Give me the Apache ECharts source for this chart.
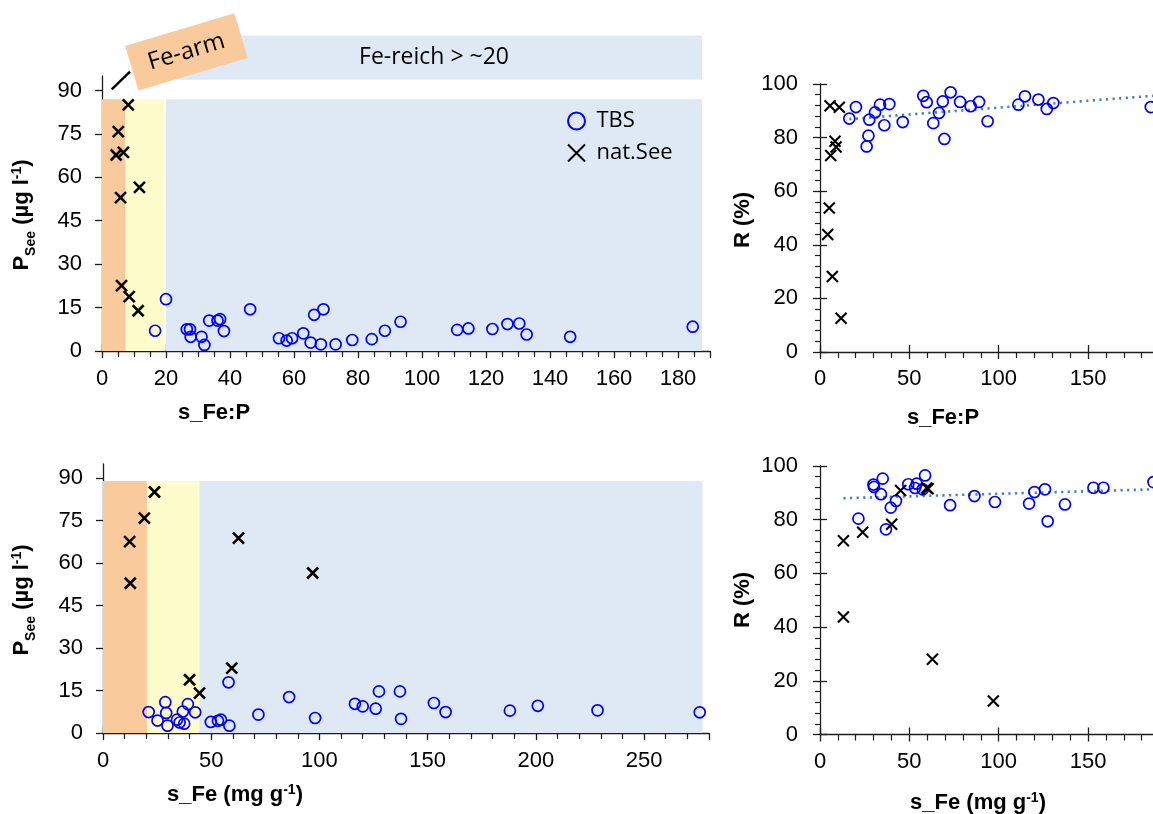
<!DOCTYPE html>
<html>
<head>
<meta charset="utf-8">
<script src="https://cdn.jsdelivr.net/npm/echarts@6/dist/echarts.min.js"></script>
<style>
html, body { margin: 0; padding: 0; background: #ffffff; }
#chart { width: 1153px; height: 814px; }
</style>
</head>
<body>
<div id="chart"></div>
<script>
// ---------- data ----------
// Panel A: P in lake water vs. sediment Fe:P ratio
const tbsFeP_x = [16.6, 20.0, 26.5, 27.5, 27.7, 31.1, 32.0, 33.5, 36.1, 36.9, 38.1, 46.3, 55.3, 57.7, 59.4, 62.9, 65.2, 66.3, 69.2, 68.4, 73.0, 78.2, 84.3, 88.4, 93.3, 111.0, 114.5, 122.0, 126.7, 130.4, 132.7, 146.3, 184.6];
const tbsFeP_P = [7.0, 17.9, 7.5, 7.5, 4.9, 4.9, 2.1, 10.5, 10.5, 11.0, 6.9, 14.4, 4.4, 3.6, 4.4, 6.1, 2.9, 12.5, 14.4, 2.3, 2.3, 3.8, 4.1, 7.0, 10.1, 7.3, 7.8, 7.6, 9.3, 9.5, 5.7, 4.9, 8.4];
const natFeP_x = [8.2, 5.1, 4.4, 6.7, 11.7, 5.8, 6.1, 8.5, 11.3];
const natFeP_P = [85.0, 75.8, 67.7, 68.6, 56.5, 53.0, 22.6, 18.8, 13.9];

// Panel B: retention R vs. sediment Fe:P ratio
const tbsFeP_Rx = [16.4, 20.1, 26.1, 27.1, 27.6, 30.8, 33.6, 36.0, 38.8, 46.3, 57.8, 59.7, 63.4, 66.6, 68.7, 69.6, 73.1, 78.4, 84.3, 89.0, 93.8, 111.0, 114.7, 122.2, 126.9, 130.6, 185.1];
const tbsFeP_R = [87.1, 91.4, 76.7, 80.7, 86.7, 89.4, 92.3, 84.6, 92.5, 85.8, 95.6, 93.2, 85.4, 89.2, 93.5, 79.5, 96.9, 93.3, 91.7, 93.3, 86.1, 92.3, 95.4, 94.2, 90.7, 92.9, 91.4];
const natFeP_Rx = [5.6, 10.8, 8.4, 9.0, 6.0, 5.2, 4.3, 6.9, 11.8];
const natFeP_R = [91.9, 91.3, 78.6, 76.5, 73.3, 53.7, 43.8, 28.2, 12.6];
const trendFeP = [[16.4, 86.9], [186.3, 95.6]];

// Panel C: P in lake water vs. sediment Fe content
const tbsFe_x = [21.1, 25.2, 28.8, 29.2, 29.8, 34.2, 35.4, 36.9, 37.5, 39.2, 42.6, 49.8, 53.1, 54.5, 58.4, 58.0, 71.8, 86.0, 98.0, 116.4, 120.0, 126.0, 127.5, 137.2, 137.7, 152.9, 158.3, 188.0, 200.9, 228.5, 275.7];
const tbsFe_P = [7.4, 4.4, 10.9, 7.1, 2.6, 4.7, 3.7, 7.6, 3.3, 10.2, 7.3, 3.9, 4.3, 4.7, 2.6, 17.9, 6.5, 12.7, 5.3, 10.3, 9.4, 8.6, 14.7, 14.7, 5.0, 10.6, 7.4, 7.9, 9.6, 8.0, 7.3];
const natFe_x = [23.8, 19.1, 12.3, 62.6, 12.6, 96.9, 59.5, 40.0, 44.6];
const natFe_P = [85.1, 75.9, 67.6, 68.8, 52.9, 56.5, 22.9, 18.8, 14.1];

// Panel D: retention R vs. sediment Fe content
const tbsFe_Rx = [21.5, 29.9, 30.2, 35.1, 34.1, 36.9, 39.6, 42.5, 49.4, 53.2, 54.1, 57.5, 58.8, 72.8, 86.4, 97.9, 117.0, 120.0, 125.9, 127.4, 137.1, 153.0, 158.6, 186.6];
const tbsFe_R = [80.4, 93.1, 92.2, 95.3, 89.5, 76.4, 84.5, 87.0, 93.2, 91.8, 93.4, 91.3, 96.5, 85.4, 88.8, 86.6, 86.0, 90.3, 91.3, 79.4, 85.7, 91.9, 91.9, 94.0];
const natFe_Rx = [13.1, 13.1, 23.9, 40.1, 45.1, 59.7, 60.5, 62.9, 97.0];
const natFe_R = [72.2, 43.8, 75.3, 78.3, 90.9, 91.8, 91.5, 28.0, 12.5];
const trendFe = [[13.1, 88.0], [186.5, 91.3]];

// Fe classes shaded behind panels A and C: [from, to]
const bandsFeP = [[0, 7.2], [7.2, 19.5], [20, 187.5]];
const bandsFe = [[0, 20.3], [20.3, 44.3], [44.5, 277]];
const bandTopFeP = 87;
const bandTopFe = 89;
const richBandFeP = [[20, 187.5], [93.7, 109]];   // "Fe-reich" label strip (x range, y range)

// tick labels
const ticksFeP = [0, 20, 40, 60, 80, 100, 120, 140, 160, 180];
const ticksFe = [0, 50, 100, 150, 200, 250];
const ticksP = [0, 15, 30, 45, 60, 75, 90];
const ticksRx = [0, 50, 100, 150, 200];
const ticksR = [0, 20, 40, 60, 80, 100];

const seriesNames = ['TBS', 'nat.See'];
const bandLabels = ['Fe-arm', 'Fe-reich > ~20'];

// ---------- styling ----------
const AX = '#1c1c1c';
const NUM_FONT = '"Liberation Sans", Arial, sans-serif';
const NOTE_FONT = '"Open Sans", sans-serif';
const BAND_COLORS = ['#F9CA9C', '#FFFCCC', '#DEE9F5'];
const CROSS = 'path://M0,0L10,10M10,0L0,10';

const zip = (xs, ys) => xs.map((x, i) => [x, ys[i]]);

function mainX(g, max, interval, minorSplit, labels, margin) {
  return {
    type: 'value', gridIndex: g, position: 'bottom', min: 0, max: max, interval: interval,
    axisLine: { show: true, onZero: false, lineStyle: { color: AX, width: 1.3 } },
    axisTick: { show: true, inside: false, length: 7, lineStyle: { color: AX, width: 1.3 } },
    minorTick: { show: true, splitNumber: minorSplit, length: 6, lineStyle: { color: AX, width: 1.2 } },
    axisLabel: { show: true, customValues: labels, margin: margin, color: '#000', fontFamily: NUM_FONT, fontSize: 22 },
    splitLine: { show: false }, minorSplitLine: { show: false }
  };
}
function mainY(g, max, interval, minorSplit, ticks, margin) {
  return {
    type: 'value', gridIndex: g, position: 'left', min: 0, max: max, interval: interval,
    axisLine: { show: true, onZero: false, lineStyle: { color: AX, width: 1.3 } },
    axisTick: { show: true, inside: false, length: 7, customValues: ticks, lineStyle: { color: AX, width: 1.3 } },
    minorTick: { show: minorSplit > 0, splitNumber: minorSplit || 5, length: 5, lineStyle: { color: AX, width: 1.2 } },
    axisLabel: { show: true, customValues: ticks, margin: margin, color: '#000', fontFamily: NUM_FONT, fontSize: 22 },
    splitLine: { show: false }, minorSplitLine: { show: false }
  };
}
// second copy of an axis that only draws the inner half of the major ticks
function innerTicks(base, ticks) {
  return Object.assign({}, base, {
    axisLine: { show: false, onZero: false },
    axisTick: { show: true, inside: true, length: 7, customValues: ticks, lineStyle: { color: AX, width: 1.3 } },
    minorTick: { show: false },
    axisLabel: { show: false }
  });
}

const xA = mainX(0, 190, 20, 4, ticksFeP, 17);
const xB = mainX(1, 200, 50, 5, ticksRx, 16);
const xC = mainX(2, 280, 50, 5, ticksFe, 17);
const xD = mainX(3, 200, 50, 5, ticksRx, 16);
const yA = mainY(0, 95, 15, 0, ticksP, 20);
const yB = mainY(1, 100, 20, 5, ticksR, 22);
const yC = mainY(2, 95, 15, 0, ticksP, 20);
const yD = mainY(3, 100, 20, 5, ticksR, 22);

function bandArea(bands, top) {
  return {
    silent: true,
    data: bands.map((b, i) => [
      { xAxis: b[0], yAxis: 0, itemStyle: { color: BAND_COLORS[i], opacity: 1 } },
      { xAxis: b[1], yAxis: top }
    ])
  };
}

function tbs(name, x, y, xi, yi, extra) {
  return Object.assign({
    name: name, type: 'scatter', xAxisIndex: xi, yAxisIndex: yi,
    data: zip(x, y), symbol: 'circle', symbolSize: 11,
    itemStyle: { color: 'transparent', borderColor: '#0000FF', borderWidth: 1.7, opacity: 1 },
    emphasis: { disabled: true }, z: 3
  }, extra || {});
}
function nat(name, x, y, xi, yi, w) {
  return {
    name: name, type: 'scatter', xAxisIndex: xi, yAxisIndex: yi,
    data: zip(x, y), symbol: CROSS, symbolSize: 11,
    itemStyle: { color: 'transparent', borderColor: '#000000', borderWidth: w, opacity: 1 },
    emphasis: { disabled: true }, z: 4
  };
}
function trend(data, xi, yi) {
  return {
    type: 'line', xAxisIndex: xi, yAxisIndex: yi, data: data,
    symbol: 'none', silent: true, z: 2,
    lineStyle: { color: '#4A7EBB', width: 2.6, type: [2.2, 4.4], opacity: 1 }
  };
}

const option = {
  animation: false,
  backgroundColor: '#ffffff',
  grid: [
    { left: 102, top: 76, width: 608, height: 275, outerBoundsMode: 'none' },
    { left: 820, top: 84, width: 357.4, height: 268, outerBoundsMode: 'none' },
    { left: 103, top: 464, width: 606, height: 269, outerBoundsMode: 'none' },
    { left: 820, top: 466, width: 357.4, height: 268.5, outerBoundsMode: 'none' }
  ],
  xAxis: [xA, xB, xC, xD,
    innerTicks(xA, ticksFeP), innerTicks(xB, ticksRx), innerTicks(xC, ticksFe), innerTicks(xD, ticksRx)],
  yAxis: [yA, yB, yC, yD, innerTicks(yB, ticksR), innerTicks(yD, ticksR)],
  legend: {
    show: true, orient: 'vertical', left: 567, top: 110,
    itemWidth: 30, itemHeight: 17, itemGap: 10, padding: 0,
    selectedMode: false,
    textStyle: { fontFamily: NOTE_FONT, fontSize: 22, color: '#000' },
    data: [
      { name: seriesNames[0], icon: 'circle', itemStyle: { color: 'transparent', borderColor: '#0000FF', borderWidth: 2, opacity: 1 } },
      { name: seriesNames[1], icon: CROSS, itemStyle: { color: 'transparent', borderColor: '#000000', borderWidth: 2, opacity: 1 } }
    ]
  },
  series: [
    tbs(seriesNames[0], tbsFeP_x, tbsFeP_P, 0, 0, { markArea: bandArea(bandsFeP, bandTopFeP) }),
    nat(seriesNames[1], natFeP_x, natFeP_P, 0, 0, 2.6),
    trend(trendFeP, 1, 1),
    tbs(seriesNames[0], tbsFeP_Rx, tbsFeP_R, 1, 1),
    nat(seriesNames[1], natFeP_Rx, natFeP_R, 1, 1, 2.1),
    tbs(seriesNames[0], tbsFe_x, tbsFe_P, 2, 2, { markArea: bandArea(bandsFe, bandTopFe) }),
    nat(seriesNames[1], natFe_x, natFe_P, 2, 2, 2.6),
    trend(trendFe, 3, 3),
    tbs(seriesNames[0], tbsFe_Rx, tbsFe_R, 3, 3),
    nat(seriesNames[1], natFe_Rx, natFe_R, 3, 3, 2.1)
  ]
};

const chart = echarts.init(document.getElementById('chart'), null, { renderer: 'canvas', width: 1153, height: 814 });
chart.setOption(option);

// ---------- annotations and axis titles ----------
const toPx = (g, v) => chart.convertToPixel({ xAxisIndex: g, yAxisIndex: g }, v);

const rich = {
  b: { fontFamily: NUM_FONT, fontWeight: 'bold', fontSize: 22, lineHeight: 26, fill: '#000' },
  sub: { fontFamily: NUM_FONT, fontWeight: 'bold', fontSize: 14, lineHeight: 26, verticalAlign: 'bottom', padding: [0, 0, -3, 0], fill: '#000' },
  sup: { fontFamily: NUM_FONT, fontWeight: 'bold', fontSize: 14, lineHeight: 26, verticalAlign: 'top', padding: [1, 0, 0, 0], fill: '#000' }
};
function title(text, x, y, vertical) {
  return {
    type: 'text', x: x, y: y, rotation: vertical ? Math.PI / 2 : 0, silent: true,
    style: { text: text, rich: rich, align: 'center', verticalAlign: 'middle' }
  };
}
const pTitle = '{b|P}{sub|See}{b| (µg l}{sup|-1}{b|)}';
const feTitle = '{b|s_Fe (mg g}{sup|-1}{b|)}';

const r0 = toPx(0, [richBandFeP[0][0], richBandFeP[1][1]]);
const r1 = toPx(0, [richBandFeP[0][1], richBandFeP[1][0]]);

chart.setOption({
  graphic: [
    { type: 'rect', silent: true, z: 0,
      shape: { x: r0[0], y: r0[1], width: r1[0] - r0[0], height: r1[1] - r0[1] },
      style: { fill: BAND_COLORS[2] } },
    { type: 'text', silent: true, z: 1, x: (r0[0] + r1[0]) / 2, y: (r0[1] + r1[1]) / 2,
      style: { text: bandLabels[1], fontFamily: NOTE_FONT, fontSize: 23, fill: '#000', align: 'center', verticalAlign: 'middle' } },
    { type: 'group', silent: true, z: 2, x: 186.4, y: 51.9, rotation: 0.2915,
      children: [
        { type: 'rect', shape: { x: -57, y: -23.3, width: 114, height: 46.6 }, style: { fill: BAND_COLORS[0] } },
        { type: 'text', x: 0, y: 0,
          style: { text: bandLabels[0], fontFamily: NOTE_FONT, fontSize: 24, fill: '#000', align: 'center', verticalAlign: 'middle' } }
      ] },
    { type: 'line', silent: true, z: 2, shape: { x1: 111.7, y1: 89.3, x2: 130, y2: 71.7 },
      style: { stroke: '#000', lineWidth: 2.4 } },
    title('{b|s_Fe:P}', 214, 413, false),
    title('{b|s_Fe:P}', 943, 418, false),
    title(feTitle, 235, 795, false),
    title(feTitle, 978, 803, false),
    title(pTitle, 22, 215, true),
    title(pTitle, 22, 600, true),
    title('{b|R (%)}', 743, 220, true),
    title('{b|R (%)}', 743, 600, true)
  ]
});
</script>
</body>
</html>
